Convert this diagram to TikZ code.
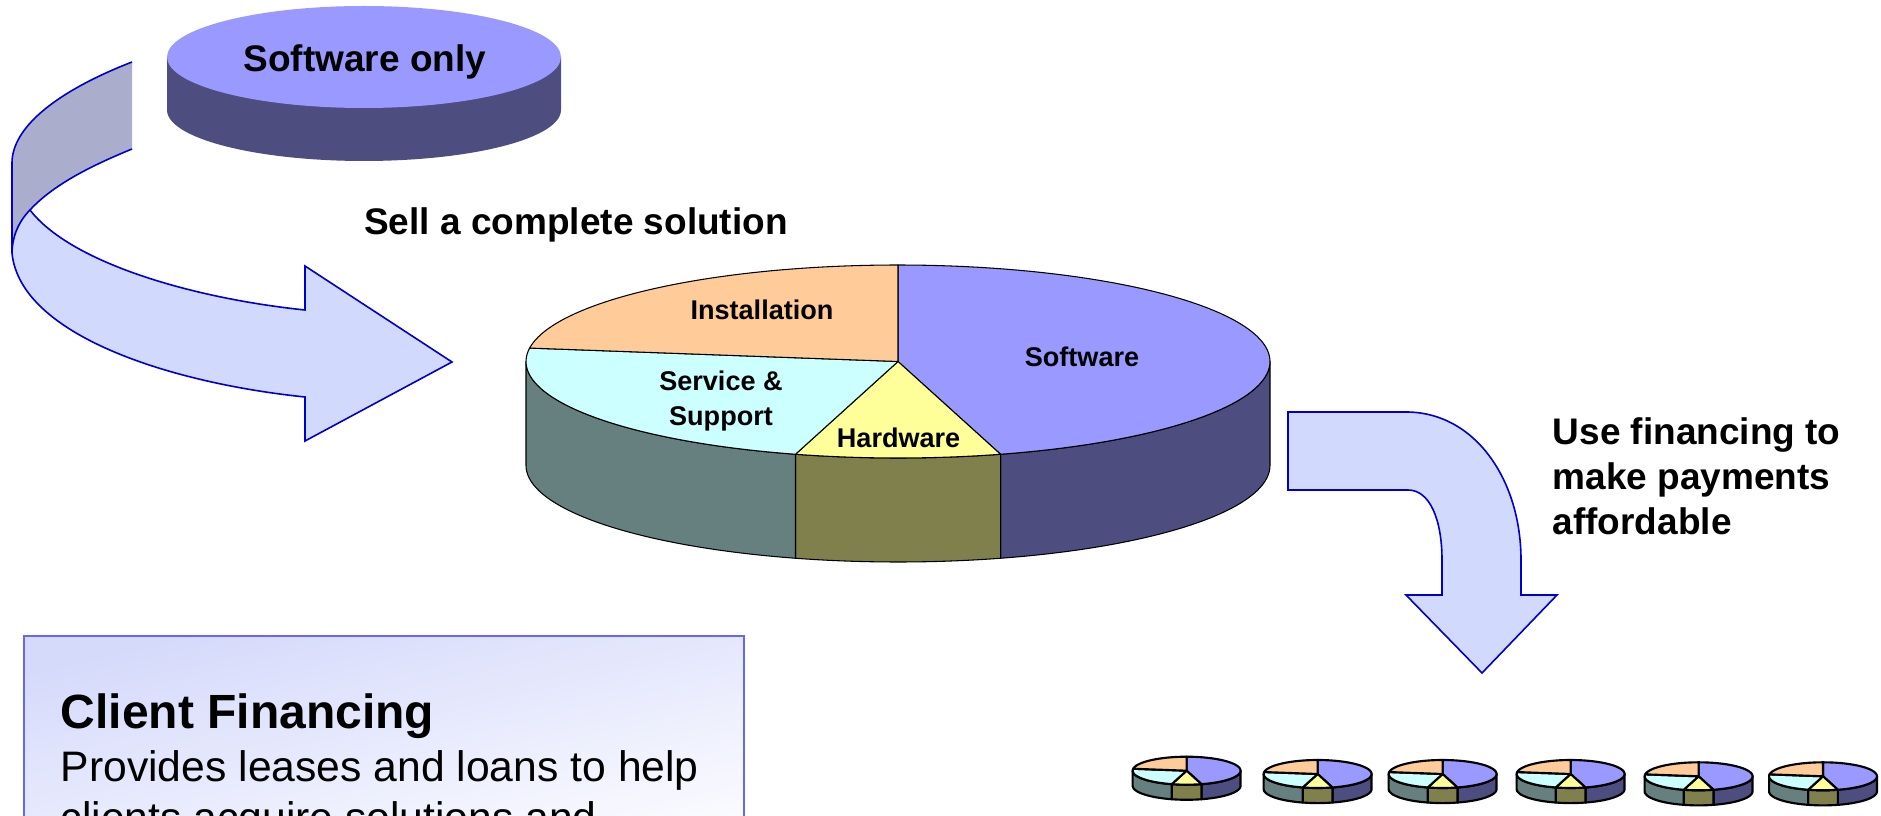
\documentclass[tikz,border=0pt]{standalone}
\usepackage{fontspec}
\setmainfont{Liberation Sans}
\definecolor{swtop}{HTML}{9999FF}
\definecolor{swside}{HTML}{4D4D80}
\definecolor{instop}{HTML}{FFCC99}
\definecolor{svtop}{HTML}{CCFFFF}
\definecolor{svside}{HTML}{668080}
\definecolor{hwtop}{HTML}{FFFF99}
\definecolor{hwside}{HTML}{80804D}
\definecolor{arrowfill}{HTML}{D1D9FC}
\definecolor{arrowdark}{HTML}{AAAECC}
\definecolor{arrowline}{HTML}{0000CC}
\definecolor{boxline}{HTML}{6666FF}
\definecolor{boxstart}{HTML}{D5DAFB}
\tikzset{
  arrowshape/.style={draw=arrowline,fill=arrowfill,line width=1.2pt,line join=miter},
  arrowedge/.style={draw=arrowline,line width=1.2pt},
  headtext/.style={anchor=base west,inner sep=0pt,font=\fontsize{27.75}{33}\selectfont\bfseries},
  pietext/.style={anchor=base,inner sep=0pt,font=\fontsize{20.3}{24}\selectfont\bfseries},
  boxhead/.style={anchor=base west,inner sep=0pt,font=\fontsize{36}{43}\selectfont\bfseries},
  boxbody/.style={anchor=base west,inner sep=0pt,font=\fontsize{32}{38}\selectfont},
}
% centre x, centre y, scale, line width
\newcommand{\drawpie}[4]{%
\begin{scope}[shift={(#1,#2)},scale=#3,line width=#4,draw=black,line join=round]
  \filldraw[fill=swside] plot[domain=0:-74,samples=40] ({372*cos(\x)},{-96.5*sin(\x)})
     -- plot[domain=-74:0,samples=40] ({372*cos(\x)},{104-96.5*sin(\x)}) -- cycle;
  \filldraw[fill=hwside] plot[domain=-74:-106,samples=20] ({372*cos(\x)},{-96.5*sin(\x)})
     -- plot[domain=-106:-74,samples=20] ({372*cos(\x)},{104-96.5*sin(\x)}) -- cycle;
  \filldraw[fill=svside] plot[domain=-106:-180,samples=40] ({372*cos(\x)},{-96.5*sin(\x)})
     -- plot[domain=-180:-106,samples=40] ({372*cos(\x)},{104-96.5*sin(\x)}) -- cycle;
  \filldraw[fill=swtop] (0,0) -- plot[domain=90:-74,samples=80] ({372*cos(\x)},{-96.5*sin(\x)}) -- cycle;
  \filldraw[fill=hwtop] (0,0) -- plot[domain=-74:-106,samples=20] ({372*cos(\x)},{-96.5*sin(\x)}) -- cycle;
  \filldraw[fill=svtop] (0,0) -- plot[domain=-106:-188,samples=50] ({372*cos(\x)},{-96.5*sin(\x)}) -- cycle;
  \filldraw[fill=instop] (0,0) -- plot[domain=172:90,samples=50] ({372*cos(\x)},{-96.5*sin(\x)}) -- cycle;
\end{scope}}
\begin{document}
\begin{tikzpicture}[x=0.75pt,y=-0.75pt]
\useasboundingbox (0,0) rectangle (1881,816);
\clip (0,0) rectangle (1881,816);
\fill[white] (0,0) rectangle (1881,816);

% Software only disc
\fill[swside] plot[domain=0:-180,samples=80] ({364+197*cos(\x)},{57-51*sin(\x)+53})
   -- (167,57) -- (561,57) -- cycle;
\fill[swtop] (364,57) ellipse [x radius=197,y radius=51];
\node[inner sep=0pt,anchor=base,font=\fontsize{27.75}{33}\selectfont\bfseries] (swonly) at (365,72) {Software only};

% curved arrow: back band, no stroke on its cut end
\fill[arrowdark] (132,62) .. controls (55,92) and (12,128) .. (12,163) -- (12,253)
   .. controls (12,238) and (18,222) .. (30,210)
   .. controls (52,186) and (88,167) .. (132,149) -- cycle;
\draw[arrowedge] (132,62) .. controls (55,92) and (12,128) .. (12,163) -- (12,253);
\draw[arrowedge] (30,210) .. controls (52,186) and (88,167) .. (132,149);
\draw[arrowshape] (30,210) .. controls (70,262) and (190,298) .. (305,310)
   -- (305,266) -- (452,362) -- (305,441) -- (305,397)
   .. controls (170,383) and (20,335) .. (12,253)
   .. controls (12,238) and (18,222) .. (30,210) -- cycle;

\node[headtext] (sell) at (364,234.5) {Sell a complete solution};

% main pie
\drawpie{898}{361.5}{1}{0.8pt}
\node[pietext] (install) at (762,320) {Installation};
\node[pietext] (soft) at (1082,367) {Software};
\node[pietext] (serv) at (721,391) {Service \&};
\node[pietext] (supp) at (721,426) {Support};
\node[pietext] (hard) at (898.6,447) {Hardware};

% bent arrow
\draw[arrowshape] (1288,412) -- (1406,412) .. controls (1475,412) and (1521,480) .. (1521,560)
   -- (1521,595) -- (1557,595) -- (1482,673) -- (1406,595) -- (1442,595) -- (1442,560)
   .. controls (1442,520) and (1430,490) .. (1408,490) -- (1288,490) -- cycle;

\node[headtext] (use1) at (1552.5,444.5) {Use financing to};
\node[headtext] (use2) at (1552.5,489.5) {make payments};
\node[headtext] (use3) at (1552.5,534) {affordable};

% financing box
\path[top color=boxstart,bottom color=white,shading angle=13] (24,636) rectangle (744,890);
\draw[boxline,line width=0.9pt] (24,890) -- (24,636) -- (744,636) -- (744,890);
\node[boxhead] (cf) at (60.5,728) {Client Financing};
\node[boxbody] (cf1) at (60.5,781) {Provides leases and loans to help};
\node[boxbody] (cf2) at (60.5,832) {clients acquire solutions and};

% small pies
\drawpie{1186.6}{770.7}{0.145}{1.6pt}
\drawpie{1317.6}{774}{0.145}{1.6pt}
\drawpie{1442.6}{774}{0.145}{1.6pt}
\drawpie{1570.6}{774}{0.145}{1.6pt}
\drawpie{1698.6}{776.3}{0.145}{1.6pt}
\drawpie{1823}{776.3}{0.145}{1.6pt}
\end{tikzpicture}
\end{document}
